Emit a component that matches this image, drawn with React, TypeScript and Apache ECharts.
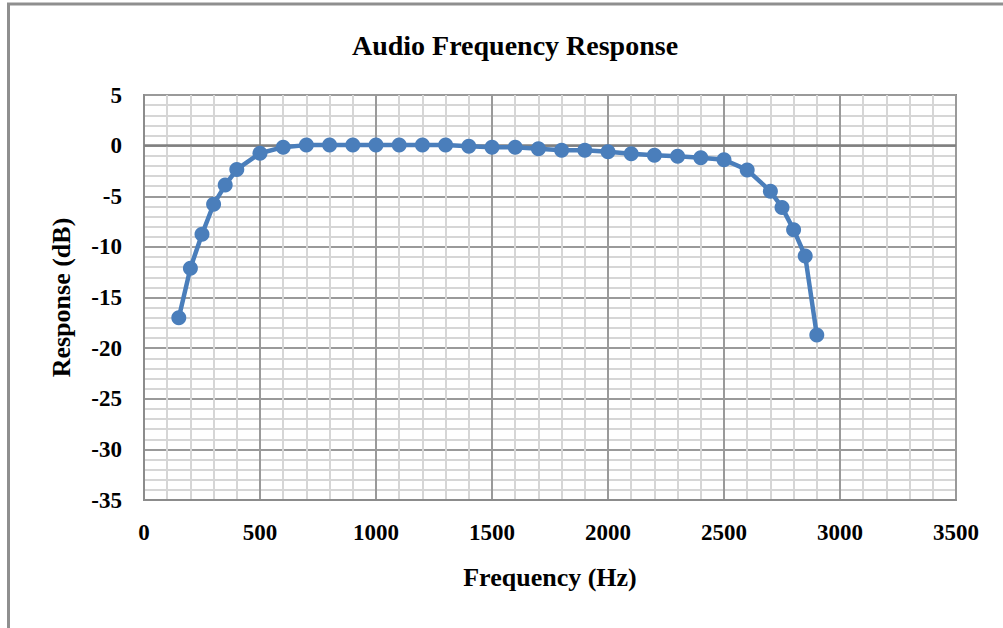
import React, { useEffect, useRef } from "react";
import * as echarts from "echarts";

const frequencies = [150, 200, 250, 300, 350, 400, 500, 600, 700, 800, 900, 1000, 1100, 1200, 1300, 1400, 1500, 1600, 1700, 1800, 1900, 2000, 2100, 2200, 2300, 2400, 2500, 2600, 2700, 2750, 2800, 2850, 2900];
const responses = [-17.0, -12.1, -8.75, -5.8, -3.9, -2.35, -0.75, -0.15, 0.05, 0.05, 0.05, 0.05, 0.05, 0.05, 0.05, -0.05, -0.15, -0.15, -0.3, -0.45, -0.45, -0.6, -0.8, -0.95, -1.05, -1.2, -1.4, -2.4, -4.5, -6.1, -8.3, -10.9, -18.7];

const titleText = "Audio Frequency Response";
const xTitle = "Frequency (Hz)";
const yTitle = "Response (dB)";

const FONT = "'Liberation Serif', 'Times New Roman', serif";

export default function App() {
  const ref = useRef<HTMLDivElement>(null);
  useEffect(() => {
    document.body.style.margin = "0";
    if (!ref.current) return;
    const chart = echarts.init(ref.current, null, { renderer: "svg" });
    const data = frequencies.map((f, i) => [f, responses[i]]);
    chart.setOption({
      animation: false,
      backgroundColor: "#ffffff",
      graphic: [
        {
          type: "rect",
          shape: { x: 8.5, y: 4, width: 1010, height: 640 },
          style: { fill: "none", stroke: "#8f8f8f", lineWidth: 3 },
          silent: true,
        },
      ],
      title: {
        text: titleText,
        left: 510,
        top: 26,
        textAlign: "center",
        textStyle: { fontFamily: FONT, fontWeight: "bold", fontSize: 28, color: "#000" },
      },
      grid: { left: 144, top: 95, right: 47, bottom: 128, show: true, borderColor: "#8c8c8c", borderWidth: 2 },
      xAxis: {
        type: "value",
        min: 0,
        max: 3500,
        interval: 500,
        name: xTitle,
        nameLocation: "middle",
        nameGap: 64,
        nameTextStyle: { fontFamily: FONT, fontWeight: "bold", fontSize: 26, color: "#000" },
        axisLine: { onZero: false, lineStyle: { color: "#8c8c8c", width: 2 } },
        axisTick: { show: false },
        axisLabel: { fontFamily: FONT, fontWeight: "bold", fontSize: 23, color: "#000", margin: 21, formatter: (v: number) => String(v) },
        splitLine: { show: true, lineStyle: { color: "#9a9a9a", width: 2 } },
        minorTick: { show: false, splitNumber: 5 },
        minorSplitLine: { show: true, lineStyle: { color: "#d6d6d6", width: 2 } },
      },
      yAxis: {
        type: "value",
        min: -35,
        max: 5,
        interval: 5,
        name: yTitle,
        nameLocation: "middle",
        nameGap: 70,
        nameTextStyle: { fontFamily: FONT, fontWeight: "bold", fontSize: 26, color: "#000" },
        axisLine: { show: true, lineStyle: { color: "#8c8c8c", width: 2 } },
        axisTick: { show: false },
        axisLabel: { fontFamily: FONT, fontWeight: "bold", fontSize: 23, color: "#000", margin: 22, formatter: (v: number) => String(v) },
        splitLine: { show: true, lineStyle: { color: "#9a9a9a", width: 2 } },
        minorTick: { show: false, splitNumber: 5 },
        minorSplitLine: { show: true, lineStyle: { color: "#d6d6d6", width: 2 } },
      },
      series: [
        {
          type: "line",
          data,
          symbol: "circle",
          symbolSize: 15,
          itemStyle: { color: "#4a7ebb" },
          lineStyle: { color: "#4a7ebb", width: 4.5 },
          z: 5,
          markLine: {
            silent: true,
            symbol: "none",
            label: { show: false },
            lineStyle: { color: "#808080", width: 2.5, type: "solid" },
            data: [{ yAxis: 0 }],
            z: 3,
          },
        },
      ],
    });
    return () => chart.dispose();
  }, []);
  return <div ref={ref} style={{ width: 1003, height: 628 }} />;
}
